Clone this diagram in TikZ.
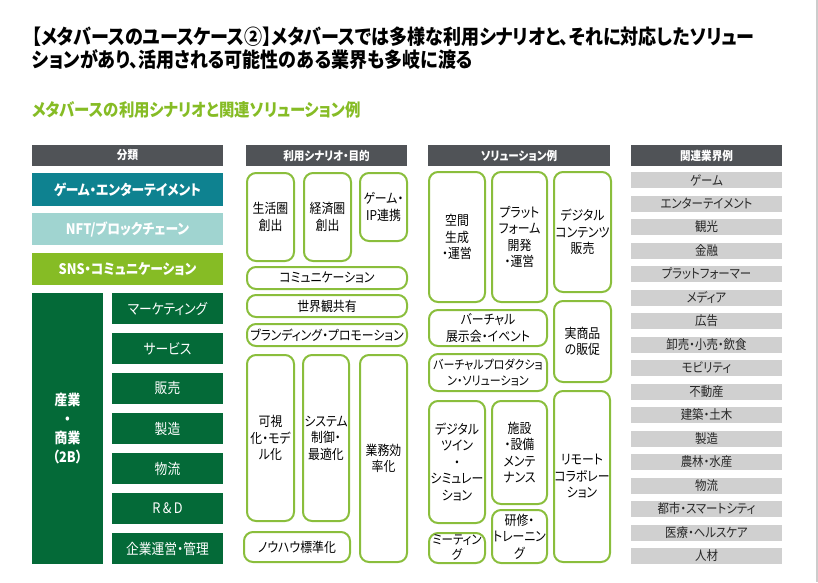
\documentclass[tikz,border=0pt]{standalone}
\usepackage{fontspec}
\setmainfont{Noto Sans CJK JP}[FakeStretch=0.88,RawFeature=+palt]
\usetikzlibrary{positioning}
\definecolor{hdr_gray}{RGB}{80,83,87}
\definecolor{ent_teal}{RGB}{14,130,144}
\definecolor{nft_teal}{RGB}{160,212,208}
\definecolor{sns_green}{RGB}{134,188,37}
\definecolor{biz_green}{RGB}{4,106,56}
\definecolor{line_green}{RGB}{138,190,60}
\definecolor{ind_gray}{RGB}{208,208,208}
\definecolor{txt_gray}{RGB}{40,40,40}
\tikzstyle{hdr}=[rectangle,fill=hdr_gray,text=white,inner sep=0pt,
  minimum height=21pt,font=\bfseries\fontsize{12}{14}\selectfont]
\tikzstyle{cat}=[rectangle,text=white,inner sep=0pt,minimum width=191pt,
  font=\bfseries\fontsize{14.5}{17}\selectfont]
\tikzstyle{biz}=[rectangle,fill=biz_green,text=white,inner sep=0pt,
  minimum width=111pt,minimum height=31pt,font=\fontsize{14.5}{17}\selectfont]
\tikzstyle{sol}=[rectangle,rounded corners=9pt,draw=line_green,fill=white,
  line width=2pt,inner sep=0pt,align=center,text=black,
  font=\fontsize{13.5}{16.5}\selectfont]
\tikzstyle{ind}=[rectangle,fill=ind_gray,text=txt_gray,inner sep=0pt,
  minimum width=151pt,minimum height=16pt,font=\fontsize{13}{15}\selectfont]
\tikzstyle{none}=[]

\begin{document}
\begin{tikzpicture}[x=1pt,y=-1pt]
        \useasboundingbox (0,0) rectangle (818,582);
        \draw [color=black!20,line width=1.5pt] (817,0) -- (817,582);
        % title
        \node [style=none,anchor=base west,inner sep=0pt,font=\bfseries\fontsize{20.5}{24}\selectfont] (t1) at (32,44) {【メタバースのユースケース②】メタバースでは多様な利用シナリオと、それに対応したソリュー};
        \node [style=none,anchor=base west,inner sep=0pt,font=\bfseries\fontsize{20.5}{24}\selectfont] (t2) at (32,67) {ションがあり、活用される可能性のある業界も多岐に渡る};
        \node [style=none,anchor=base west,inner sep=0pt,text=sns_green,font=\bfseries\fontsize{17.5}{20}\selectfont] (t3) at (32,116) {メタバースの利用シナリオと関連ソリューション例};
        % headers
        \node [style=hdr,minimum width=191pt] (h1) at (127.5,155.5) {分類};
        \node [style=hdr,minimum width=161pt] (h2) at (326.5,155.5) {利用シナリオ・目的};
        \node [style=hdr,minimum width=182pt] (h3) at (519,155.5) {ソリューション例};
        \node [style=hdr,minimum width=151pt] (h4) at (706.5,155.5) {関連業界例};
        % categories
        \node [style=cat,fill=ent_teal,minimum height=33pt] (c1) at (127.5,189.5) {ゲーム・エンターテイメント};
        \node [style=cat,fill=nft_teal,minimum height=32pt] (c2) at (127.5,229) {NFT/ブロックチェーン};
        \node [style=cat,fill=sns_green,minimum height=32pt] (c3) at (127.5,269) {SNS・コミュニケーション};
        \node [rectangle,fill=biz_green,text=white,inner sep=0pt,minimum width=71pt,minimum height=271pt,
          align=center,font=\bfseries\fontsize{14.5}{19}\selectfont] (c4) at (67.5,428.5) {産業\\・\\商業\\（2B）};
        \node [style=biz] (b1) at (167.5,308.5) {マーケティング};
        \node [style=biz] (b2) at (167.5,348.5) {サービス};
        \node [style=biz] (b3) at (167.5,388.5) {販売};
        \node [style=biz] (b4) at (167.5,428.5) {製造};
        \node [style=biz] (b5) at (167.5,468.5) {物流};
        \node [style=biz] (b6) at (167.5,508.5) {R\,\&\,D};
        \node [style=biz] (b7) at (167.5,548.5) {企業運営・管理};
        % scenarios
        \node [style=sol,minimum width=47pt,minimum height=88pt] (s1) at (270.5,217) {生活圏\\創出};
        \node [style=sol,minimum width=47pt,minimum height=88pt] (s2) at (327.5,217) {経済圏\\創出};
        \node [style=sol,minimum width=47pt,minimum height=68pt] (s3) at (383.5,207) {ゲーム・\\IP連携};
        \node [style=sol,minimum width=160pt,minimum height=22pt] (s4) at (327,278) {コミュニケーション};
        \node [style=sol,minimum width=160pt,minimum height=22pt] (s5) at (327,306) {世界観共有};
        \node [style=sol,minimum width=160pt,minimum height=22pt] (s6) at (327,335) {ブランディング・プロモーション};
        \node [style=sol,minimum width=47pt,minimum height=166pt] (s7) at (270.5,438) {可視\\化・モデ\\ル化};
        \node [style=sol,minimum width=46pt,minimum height=166pt] (s8) at (326,438) {システム\\制御・\\最適化};
        \node [style=sol,minimum width=47pt,minimum height=207pt] (s9) at (383.5,458.5) {業務効\\率化};
        \node [style=sol,minimum width=106pt,minimum height=30pt] (s10) at (297,547) {ノウハウ標準化};
        % solutions
        \node [style=sol,minimum width=56pt,minimum height=130pt] (u1) at (457,237) {空間\\生成\\・運営};
        \node [style=sol,minimum width=55pt,minimum height=130pt] (u2) at (519.5,237) {プラット\\フォーム\\開発\\・運営};
        \node [style=sol,minimum width=57pt,minimum height=120pt] (u3) at (582.5,232) {デジタル\\コンテンツ\\販売};
        \node [style=sol,minimum width=118pt,minimum height=36pt] (u4) at (488,328) {バーチャル\\展示会・イベント};
        \node [style=sol,minimum width=57pt,minimum height=81pt] (u5) at (582.5,341.5) {実商品\\の販促};
        \node [style=sol,minimum width=118pt,minimum height=37pt,font=\fontsize{12.5}{16}\selectfont] (u6) at (488,372.5) {バーチャルプロダクショ\\ン・ソリューション};
        \node [style=sol,minimum width=56pt,minimum height=122pt] (u7) at (457,462) {デジタル\\ツイン\\・\\シミュレー\\ション};
        \node [style=sol,minimum width=55pt,minimum height=103pt] (u8) at (519.5,452.5) {施設\\・設備\\メンテ\\ナンス};
        \node [style=sol,minimum width=56pt,minimum height=171pt] (u9) at (582,476.5) {リモート\\コラボレー\\ション};
        \node [style=sol,minimum width=56pt,minimum height=30pt,font=\fontsize{13}{15}\selectfont] (u10) at (457,548) {ミーティン\\グ};
        \node [style=sol,minimum width=55pt,minimum height=53pt] (u11) at (519.5,536.5) {研修・\\トレーニン\\グ};
        % industries
        \node [style=ind] (i1) at (706.5,180) {ゲーム};
        \node [style=ind] (i2) at (706.5,203.5) {エンターテイメント};
        \node [style=ind] (i3) at (706.5,227) {観光};
        \node [style=ind] (i4) at (706.5,250.5) {金融};
        \node [style=ind] (i5) at (706.5,274) {プラットフォーマー};
        \node [style=ind] (i6) at (706.5,297.5) {メディア};
        \node [style=ind] (i7) at (706.5,321) {広告};
        \node [style=ind] (i8) at (706.5,344.5) {卸売・小売・飲食};
        \node [style=ind] (i9) at (706.5,368) {モビリティ};
        \node [style=ind] (i10) at (706.5,391.5) {不動産};
        \node [style=ind] (i11) at (706.5,415) {建築・土木};
        \node [style=ind] (i12) at (706.5,438.5) {製造};
        \node [style=ind] (i13) at (706.5,462) {農林・水産};
        \node [style=ind] (i14) at (706.5,485.5) {物流};
        \node [style=ind] (i15) at (706.5,509) {都市・スマートシティ};
        \node [style=ind] (i16) at (706.5,532.5) {医療・ヘルスケア};
        \node [style=ind] (i17) at (706.5,556) {人材};
    \end{tikzpicture}
\end{document}
